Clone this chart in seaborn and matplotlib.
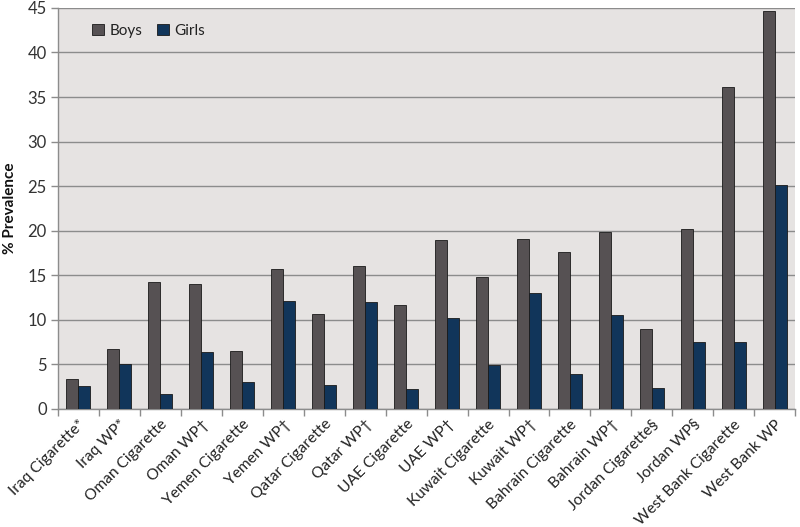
import matplotlib
matplotlib.use("Agg")
import matplotlib.pyplot as plt
import seaborn as sns
import pandas as pd
import numpy as np

categories = ["Iraq Cigarette*", "Iraq WP*", "Oman Cigarette", "Oman WP†", "Yemen Cigarette",
              "Yemen WP†", "Qatar Cigarette", "Qatar WP†", "UAE Cigarette", "UAE WP†",
              "Kuwait Cigarette", "Kuwait WP†", "Bahrain Cigarette", "Bahrain WP†",
              "Jordan Cigarette§", "Jordan WP§", "West Bank Cigarette", "West Bank WP"]
boys = [3.4, 6.7, 14.2, 14.0, 6.5, 15.7, 10.7, 16.0, 11.7, 19.0,
        14.8, 19.1, 17.6, 19.9, 9.0, 20.2, 36.1, 44.7]
girls = [2.6, 5.0, 1.7, 6.4, 3.0, 12.1, 2.7, 12.0, 2.2, 10.2,
         4.9, 13.0, 3.9, 10.5, 2.3, 7.5, 7.5, 25.1]
series = ["Boys", "Girls"]
yticks = [0, 5, 10, 15, 20, 25, 30, 35, 40, 45]

df = pd.DataFrame({"Category": categories * 2,
                   "Sex": [series[0]] * len(categories) + [series[1]] * len(categories),
                   "Value": boys + girls})

sns.set_theme(style="white")
plt.rcParams["font.family"] = ["Lato", "DejaVu Sans"]

fig = plt.figure(figsize=(8.0, 5.27), dpi=100)
ax = fig.add_axes([0.0725, 0.224, 0.9215, 0.761])
ax.set_facecolor("#E6E3E2")

sns.barplot(data=df, x="Category", y="Value", hue="Sex", order=categories, hue_order=series,
            palette={"Boys": "#565153", "Girls": "#11355A"}, width=0.585,
            edgecolor="#1a1a1a", linewidth=0.6, saturation=1, ax=ax, zorder=3)

ax.set_ylim(0, 45)
ax.set_xlim(-0.5, len(categories) - 0.5)
ax.set_yticks(yticks)
ax.yaxis.grid(True, color="#8C8C8C", linewidth=1.0, zorder=0)
ax.set_axisbelow(True)
ax.tick_params(axis="y", labelsize=12, colors="#333333", length=5, width=1,
               direction="out", left=True, color="#8C8C8C", pad=3)
ax.set_xticks(range(len(categories)))
ax.set_xticklabels(categories, rotation=45, ha="right", rotation_mode="anchor",
                   fontsize=11.2, color="#222222")
ax.tick_params(axis="x", length=0, pad=6)
ax.set_xticks(np.arange(-0.5, len(categories), 1.0), minor=True)
ax.tick_params(axis="x", which="minor", length=5, width=1, color="#8C8C8C", bottom=True,
               direction="out")

for s in ["top", "right"]:
    ax.spines[s].set_visible(False)
ax.spines["left"].set_color("#8C8C8C")
ax.spines["bottom"].set_color("#8C8C8C")
ax.spines["left"].set_linewidth(1.0)
ax.spines["bottom"].set_linewidth(1.0)

ax.set_xlabel("")
ax.set_ylabel("% Prevalence", fontsize=11, fontweight="bold", color="#111111", labelpad=8)

leg = ax.legend(loc="upper left", bbox_to_anchor=(0.028, 0.995), ncol=2, frameon=False,
                fontsize=11, handlelength=0.75, handleheight=0.75, handletextpad=0.35,
                columnspacing=1.0)
for t in leg.get_texts():
    t.set_color("#222222")

fig.savefig("out.png", dpi=100)
